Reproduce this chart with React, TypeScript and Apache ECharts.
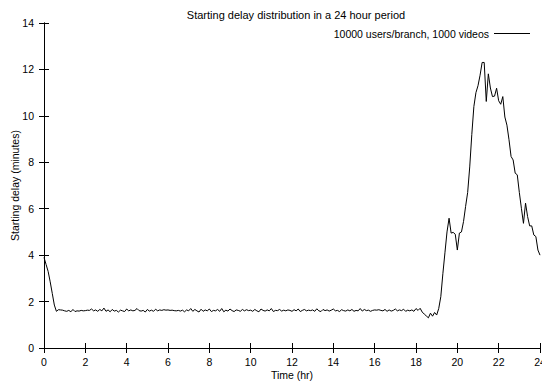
import React, { useEffect, useRef } from "react";
import * as echarts from "echarts";

const TITLE = "Starting delay distribution in a 24 hour period";
const X_NAME = "Time (hr)";
const Y_NAME = "Starting delay (minutes)";
const SERIES_NAME = "10000 users/branch, 1000 videos";
const TIME_STEP = 0.1; // hours between samples, starting at 0

const startValues = [3.9, 3.6, 3.3, 2.85, 2.35, 1.85, 1.58, 1.65];
const flatValues = [
  1.64, 1.63, 1.60, 1.58, 1.62, 1.56, 1.66, 1.57, 1.60, 1.59,
  1.62, 1.60, 1.61, 1.63, 1.62, 1.68, 1.60, 1.64, 1.58, 1.66,
  1.60, 1.72, 1.58, 1.64, 1.56, 1.66, 1.59, 1.62, 1.55, 1.63,
  1.60, 1.57, 1.68, 1.60, 1.64, 1.60, 1.62, 1.70, 1.61, 1.59,
  1.62, 1.55, 1.66, 1.59, 1.63, 1.58, 1.67, 1.60, 1.64, 1.62,
  1.65, 1.63, 1.64, 1.62, 1.63, 1.61, 1.60, 1.62, 1.59, 1.63,
  1.56, 1.64, 1.60, 1.70, 1.58, 1.66, 1.60, 1.55, 1.67, 1.58,
  1.64, 1.60, 1.68, 1.57, 1.62, 1.60, 1.66, 1.58, 1.70, 1.56,
  1.63, 1.59, 1.68, 1.61, 1.57, 1.64, 1.62, 1.58, 1.66, 1.60,
  1.65, 1.61, 1.63, 1.58, 1.66, 1.60, 1.56, 1.68, 1.62, 1.59,
  1.64, 1.60, 1.70, 1.57, 1.62, 1.61, 1.66, 1.59, 1.63, 1.60,
  1.64, 1.62, 1.58, 1.65, 1.60, 1.68, 1.57, 1.62, 1.66, 1.60,
  1.63, 1.61, 1.64, 1.58, 1.69, 1.60, 1.57, 1.66, 1.61, 1.64,
  1.59, 1.63, 1.68, 1.60, 1.62, 1.57, 1.65, 1.61, 1.59, 1.64,
  1.60, 1.66, 1.58, 1.62, 1.60, 1.70, 1.59, 1.66, 1.61, 1.63,
  1.58, 1.62, 1.64, 1.63, 1.65, 1.62, 1.60, 1.66, 1.58, 1.64,
  1.59, 1.62, 1.68, 1.60, 1.64, 1.61, 1.67, 1.58, 1.63, 1.60,
  1.64, 1.58, 1.70, 1.62,
];
const peakValues = [
  1.71, 1.55, 1.46, 1.38, 1.30, 1.50, 1.37, 1.53, 1.42, 1.70,
  2.21, 3.2, 4.1, 5.0, 5.59, 4.95, 4.98, 4.9, 4.22, 4.95,
  5.0, 5.45, 6.1, 6.7, 7.8, 9.2, 10.4, 11.0, 11.3, 11.75,
  12.3, 12.3, 10.62, 11.81, 11.2, 10.83, 10.85, 11.19, 10.65, 10.5,
  10.83, 9.95, 9.6, 8.97, 8.25, 8.1, 7.53, 7.46, 6.7, 6.02,
  5.37, 6.24, 5.66, 5.26, 5.26, 4.87, 4.8, 4.22, 4.0,
];
const delayValues = [...startValues, ...flatValues, ...peakValues];

const X_TICKS = { min: 0, max: 24, interval: 2 };
const Y_TICKS = { min: 0, max: 14, interval: 2 };

const FONT = "Liberation Sans, Arial, Helvetica, sans-serif";

export default function App() {
  const ref = useRef<HTMLDivElement>(null);
  useEffect(() => {
    if (!ref.current) return;
    const chart = echarts.init(ref.current, null, { renderer: "svg" });
    const data = delayValues.map((v, i) => [+(i * TIME_STEP).toFixed(1), v]);
    const axisLine = { show: true, lineStyle: { color: "#000", width: 1 } };
    const tick = { show: true, inside: true, length: 5, lineStyle: { color: "#000", width: 1 } };
    const label = { color: "#000", fontSize: 10.5, fontFamily: FONT };
    chart.setOption({
      animation: false,
      backgroundColor: "#fff",
      title: {
        text: TITLE,
        left: 291,
        textAlign: "center",
        top: 4,
        textStyle: { fontSize: 11, fontWeight: "normal", color: "#000", fontFamily: FONT },
      },
      legend: {
        data: [SERIES_NAME],
        right: 12,
        top: 28,
        align: "right",
        itemWidth: 36,
        itemHeight: 1,
        itemGap: 6,
        icon: "rect",
        textStyle: { fontSize: 10.5, color: "#000", fontFamily: FONT, padding: [0, 0, 0, 0] },
        padding: 0,
      },
      grid: { left: 44, right: 2, top: 23, bottom: 35, containLabel: false, outerBoundsMode: "none" },
      xAxis: [
        {
          type: "value",
          ...X_TICKS,
          name: X_NAME,
          nameLocation: "middle",
          nameGap: 21,
          nameMoveOverlap: false,
          nameTextStyle: { color: "#000", fontSize: 10.5, fontFamily: FONT },
          axisLine,
          axisTick: tick,
          axisLabel: { ...label, margin: 8 },
          splitLine: { show: false },
        },
        {
          type: "value",
          position: "top",
          ...X_TICKS,
          axisLine,
          axisTick: tick,
          axisLabel: { show: false },
          splitLine: { show: false },
        },
      ],
      yAxis: [
        {
          type: "value",
          ...Y_TICKS,
          name: Y_NAME,
          nameLocation: "middle",
          nameGap: 24,
          nameMoveOverlap: false,
          nameTextStyle: { color: "#000", fontSize: 10.5, fontFamily: FONT },
          axisLine,
          axisTick: tick,
          axisLabel: { ...label, margin: 10 },
          splitLine: { show: false },
        },
        {
          type: "value",
          position: "right",
          ...Y_TICKS,
          axisLine,
          axisTick: tick,
          axisLabel: { show: false },
          splitLine: { show: false },
        },
      ],
      series: [
        {
          name: SERIES_NAME,
          type: "line",
          data,
          showSymbol: false,
          symbol: "none",
          lineStyle: { color: "#000", width: 1 },
          itemStyle: { color: "#000" },
          xAxisIndex: 0,
          yAxisIndex: 0,
        },
      ],
    });
    return () => chart.dispose();
  }, []);
  return <div ref={ref} style={{ width: 542, height: 383, position: "absolute", left: 0, top: 0 }} />;
}
